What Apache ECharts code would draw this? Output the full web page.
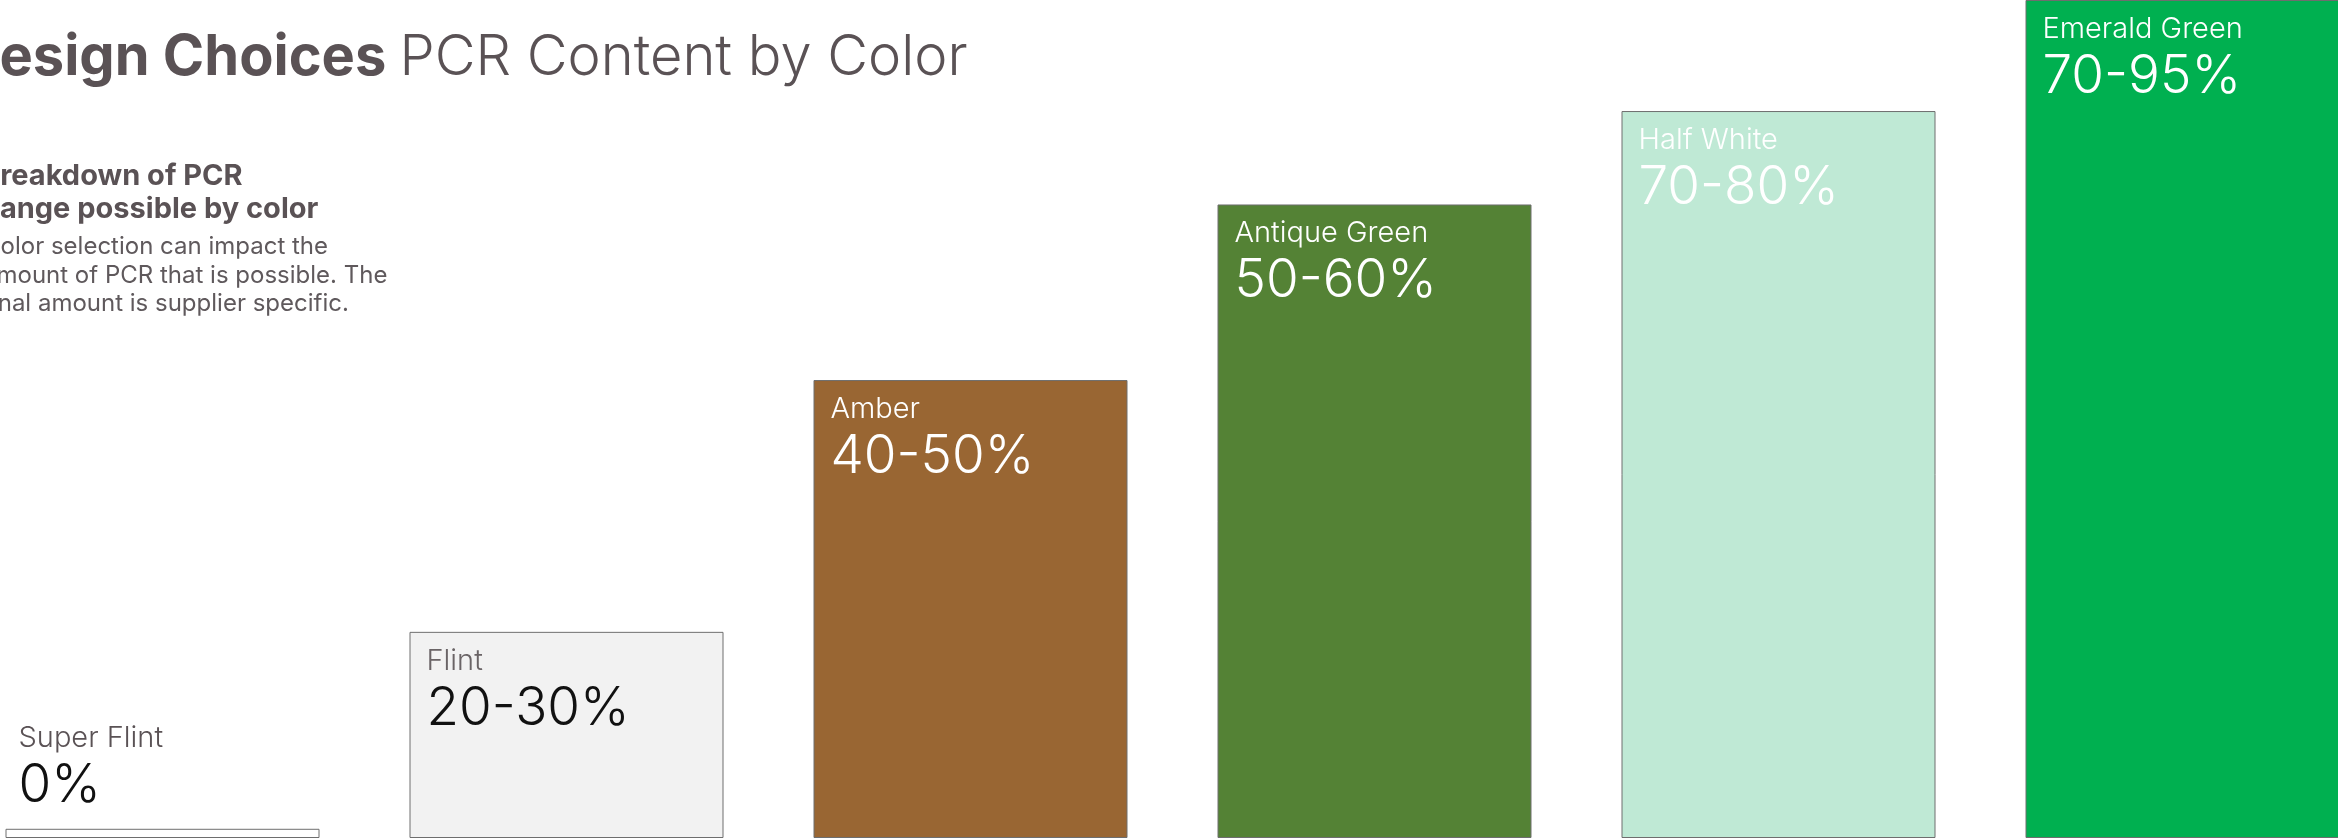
<!DOCTYPE html>
<html>
<head>
<meta charset="utf-8">
<script src="https://cdn.jsdelivr.net/npm/echarts@6/dist/echarts.min.js"></script>
<style>
html,body{margin:0;padding:0;background:#ffffff;overflow:hidden}
#chart{width:2338px;height:839px}
</style>
</head>
<body>
<div id="chart"></div>
<script>
// ---- data ----
const categories = ['Super Flint', 'Flint', 'Amber', 'Antique Green', 'Half White', 'Emerald Green'];
const pcrRanges = ['0%', '20-30%', '40-50%', '50-60%', '70-80%', '70-95%'];
// relative bar heights (0-100 scale of the plot height)
const barHeights = [1.1, 24.6, 54.65, 75.6, 86.75, 100];
const barColors = ['#ffffff', '#f2f2f2', '#996633', '#548235', '#bfe9d5', '#00b050'];
const nameColors = ['#5a5255', '#6a6466', '#ffffff', '#ffffff', '#ffffff', '#ffffff'];
const rangeColors = ['#111111', '#111111', '#ffffff', '#ffffff', '#ffffff', '#ffffff'];
const titleBold = 'Design Choices';
const titleLight = 'PCR Content by Color';
const subtitleLines = ['Breakdown of PCR', 'Range possible by color'];
const bodyLines = ['Color selection can impact the', 'amount of PCR that is possible. The', 'final amount is supplier specific.'];

const FONT = 'Inter, "Open Sans", sans-serif';
const TEXT_GRAY = '#5a5255';

const chart = echarts.init(document.getElementById('chart'), null, { renderer: 'canvas' });

const seriesData = barHeights.map((v, i) => ({
  value: v,
  itemStyle: { color: barColors[i] },
  label: {
    position: i === 0 ? [13, -109] : [17, 11],
    rich: {
      n: { fontFamily: FONT, fontSize: 29, fontWeight: 300, lineHeight: 36, color: nameColors[i] },
      v: { fontFamily: FONT, fontSize: 53, fontWeight: 300, lineHeight: 60, color: rangeColors[i] }
    }
  }
}));

chart.setOption({
  animation: false,
  backgroundColor: '#ffffff',
  title: {
    left: -41,
    top: 26,
    padding: 0,
    text: '{b|' + titleBold + ' }{l|' + titleLight + '}',
    textStyle: {
      rich: {
        b: { fontFamily: FONT, fontSize: 56, fontWeight: 700, color: TEXT_GRAY, lineHeight: 64 },
        l: { fontFamily: FONT, fontSize: 56, fontWeight: 300, color: TEXT_GRAY, lineHeight: 64 }
      }
    }
  },
  graphic: [
    {
      type: 'text', left: -19, top: 160,
      style: { text: subtitleLines.join('\n'), font: '700 29px ' + FONT, lineHeight: 33, fill: TEXT_GRAY }
    },
    {
      type: 'text', left: -17, top: 233,
      style: { text: bodyLines.join('\n'), font: '400 24px ' + FONT, lineHeight: 28.5, fill: '#5f595c' }
    }
  ],
  grid: { left: 162.5, width: 2020, top: 0, bottom: 1, containLabel: false },
  xAxis: {
    type: 'category',
    data: categories,
    boundaryGap: false,
    show: false
  },
  yAxis: {
    type: 'value',
    min: 0,
    max: 100,
    show: false,
    splitLine: { show: false }
  },
  series: [{
    type: 'bar',
    data: seriesData,
    barWidth: 314,
    clip: false,
    itemStyle: { borderColor: '#6e6e6e', borderWidth: 1 },
    label: {
      show: true,
      formatter: (p) => '{n|' + categories[p.dataIndex] + '}\n{v|' + pcrRanges[p.dataIndex] + '}'
    }
  }]
});
</script>
</body>
</html>
